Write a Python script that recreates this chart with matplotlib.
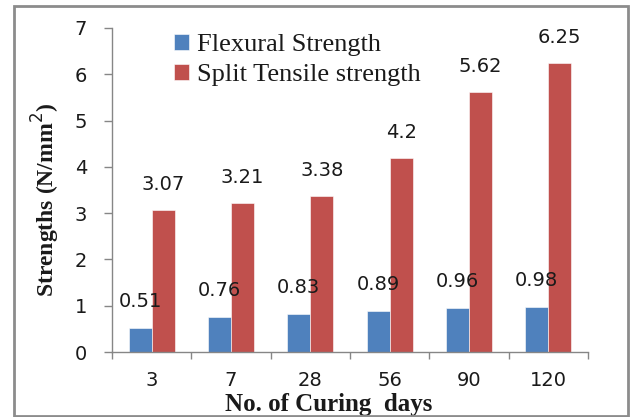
import matplotlib
matplotlib.use("Agg")
import matplotlib.pyplot as plt
from matplotlib.patches import Rectangle
import numpy as np

days = ["3", "7", "28", "56", "90", "120"]
flexural = [0.51, 0.76, 0.83, 0.89, 0.96, 0.98]
split_tensile = [3.07, 3.21, 3.38, 4.2, 5.62, 6.25]
y_ticks = [0, 1, 2, 3, 4, 5, 6, 7]

blue = "#4F81BD"
red = "#C0504D"
axis_gray = "#868686"
sans = ["DejaVu Sans"]
serif = ["Liberation Serif", "DejaVu Serif"]
txt = "#1a1a1a"

W, H = 630, 417
fig = plt.figure(figsize=(W / 100, H / 100), dpi=100)
ax = fig.add_axes([112 / W, 1 - 352 / H, (588 - 112) / W, (352 - 28) / H])

x = np.arange(len(days))
bw = 0.29
b1 = ax.bar(x - bw / 2, flexural, bw, color=blue, edgecolor="white", linewidth=0.4,
            label="Flexural Strength")
b2 = ax.bar(x + bw / 2, split_tensile, bw, color=red, edgecolor="white", linewidth=0.4,
            label="Split Tensile strength")

for rect, v in zip(b1, flexural):
    ax.annotate(f"{v:g}", (rect.get_x() + rect.get_width() / 2, v),
                xytext=(0, 17), textcoords="offset pixels", ha="center", va="bottom",
                fontsize=14, family=sans, color=txt)
for rect, v in zip(b2, split_tensile):
    ax.annotate(f"{v:g}", (rect.get_x() + rect.get_width() / 2, v),
                xytext=(0, 16), textcoords="offset pixels", ha="center", va="bottom",
                fontsize=14, family=sans, color=txt)

ax.set_xlim(-0.5, len(days) - 0.5)
ax.set_ylim(0, 7)
ax.set_yticks(y_ticks)
ax.set_yticklabels([str(t) for t in y_ticks], fontsize=14, family=sans, color=txt)
ax.set_xticks(x)
ax.set_xticklabels(days, fontsize=14, family=sans, color=txt)
ax.set_xticks(np.arange(len(days) + 1) - 0.5, minor=True)
ax.tick_params(axis="x", which="major", length=0, pad=14)
ax.tick_params(axis="x", which="minor", length=5, color=axis_gray, width=1)
ax.tick_params(axis="y", length=6, color=axis_gray, width=1, pad=12)

for s in ["top", "right"]:
    ax.spines[s].set_visible(False)
for s in ["left", "bottom"]:
    ax.spines[s].set_color(axis_gray)
    ax.spines[s].set_linewidth(1)

ax.set_ylabel("Strengths (N/mm$^{2}$)", fontsize=17, fontweight="bold", family=serif,
              color=txt)
ax.yaxis.set_label_coords(-0.105, 0.469)
ax.set_xlabel("No. of Curing  days", fontsize=18, fontweight="bold", family=serif,
              color=txt)
ax.xaxis.set_label_coords(0.456, -0.125)

leg = ax.legend(loc="upper left", bbox_to_anchor=(0.109, 1.015), frameon=False,
                prop={"family": serif, "size": 19}, handlelength=0.55, handleheight=0.55,
                handletextpad=0.3, labelspacing=0.3, borderaxespad=0)
for t in leg.get_texts():
    t.set_color(txt)

# outer frame around the whole chart
fig.patches.append(Rectangle((14 / W, 1 / H), (628 - 14) / W, (411 - 1) / H,
                             transform=fig.transFigure, fill=False,
                             edgecolor="#8c8c8c", linewidth=2))

fig.savefig("out.png", dpi=100)
